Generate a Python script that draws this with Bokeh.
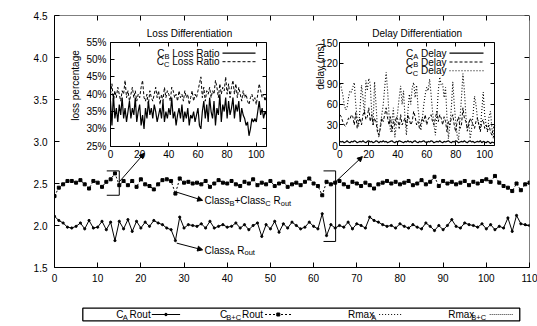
import math
from bokeh.plotting import figure
from bokeh.models import (Range1d, LinearAxis, FixedTicker, PrintfTickFormatter,
                          Label, Arrow, NormalHead, ColumnDataSource)
from bokeh.layouts import column
from bokeh.embed import file_html
from bokeh.resources import INLINE

# ---------------- data ----------------
transmission = list(range(0, 111))
class_a_rout = [
    2.11, 2.06, 2.03, 1.98, 1.97, 1.99, 2.03, 1.96, 2.06, 1.97,
    1.98, 2.05, 1.95, 2.04, 1.82, 2.05, 1.96, 2.07, 1.93, 2.05,
    1.97, 2.04, 1.99, 2.06, 2.03, 2.01, 1.97, 1.95, 1.82, 2.10,
    1.97, 2.01, 2.00, 1.99, 2.02, 1.97, 2.05, 1.97, 1.99, 2.01,
    1.98, 1.99, 2.03, 1.97, 2.01, 1.95, 2.00, 2.03, 1.87, 2.01,
    1.96, 2.05, 1.92, 2.02, 1.97, 2.04, 2.00, 1.96, 1.98, 2.04,
    1.99, 1.96, 2.14, 1.88, 2.01, 1.97, 2.00, 1.98, 2.04, 1.96,
    2.02, 2.00, 1.97, 2.10, 2.06, 2.04, 2.01, 1.99, 2.00, 1.97,
    2.02, 1.99, 1.97, 2.01, 1.98, 1.96, 2.03, 1.99, 1.94, 2.00,
    1.95, 2.00, 2.07, 1.99, 1.97, 2.03, 2.01, 2.00, 1.98, 2.02,
    1.96, 2.01, 1.95, 1.99, 1.97, 2.09, 1.93, 2.12, 2.02, 2.01,
    2.00]
class_bc_rout = [
    2.35, 2.45, 2.49, 2.53, 2.53, 2.51, 2.54, 2.49, 2.44, 2.53,
    2.51, 2.46, 2.52, 2.55, 2.62, 2.48, 2.53, 2.48, 2.53, 2.46,
    2.55, 2.49, 2.47, 2.43, 2.49, 2.54, 2.55, 2.53, 2.38, 2.56,
    2.51, 2.52, 2.50, 2.51, 2.49, 2.53, 2.46, 2.50, 2.54, 2.51,
    2.50, 2.53, 2.49, 2.47, 2.52, 2.50, 2.55, 2.48, 2.51, 2.49,
    2.53, 2.47, 2.50, 2.52, 2.46, 2.49, 2.51, 2.48, 2.52, 2.56,
    2.50, 2.47, 2.36, 2.52, 2.49, 2.51, 2.53, 2.49, 2.46, 2.52,
    2.50, 2.47, 2.51, 2.48, 2.44, 2.49, 2.51, 2.53, 2.50, 2.52,
    2.49, 2.51, 2.53, 2.48, 2.50, 2.54, 2.49, 2.52, 2.58, 2.47,
    2.53, 2.50, 2.52, 2.49, 2.51, 2.53, 2.48, 2.52, 2.50, 2.53,
    2.55, 2.52, 2.59, 2.51, 2.47, 2.45, 2.41, 2.50, 2.42, 2.49,
    2.51]

loss_cb = [
    38, 31, 40, 33, 36, 32, 37, 34, 39, 33,
    36, 32, 35, 38, 33, 36, 34, 39, 32, 35,
    37, 31, 34, 30, 36, 33, 38, 34, 36, 33,
    37, 35, 32, 34, 36, 33, 38, 32, 35, 33,
    36, 34, 39, 33, 35, 31, 34, 36, 33, 37,
    32, 35, 33, 36, 31, 34, 33, 35, 32, 34,
    36, 31, 30, 35, 38, 33, 37, 32, 39, 35,
    33, 38, 31, 36, 34, 40, 32, 37, 35, 39,
    33, 38, 34, 36, 39, 33, 37, 35, 38, 32,
    36, 34, 33, 31, 32, 28, 30, 33, 32, 33,
    32, 35, 38, 34, 36, 33, 35, 34]
loss_cc = [
    40, 43, 38, 41, 39, 42, 40, 38, 41, 40,
    44, 39, 41, 38, 40, 42, 39, 41, 38, 40,
    39, 42, 44, 39, 38, 40, 37, 41, 39, 38,
    40, 42, 39, 41, 37, 40, 38, 42, 39, 41,
    40, 38, 42, 41, 39, 40, 38, 41, 39, 40,
    38, 41, 39, 40, 37, 39, 41, 38, 40, 39,
    41, 43, 45, 39, 42, 38, 41, 40, 42, 39,
    41, 40, 44, 42, 39, 43, 40, 42, 41, 45,
    40, 43, 39, 42, 44, 40, 43, 39, 42, 40,
    38, 41, 39, 40, 38, 37, 39, 40, 38, 39,
    37, 40, 43, 41, 39, 40, 38, 40]

delay_ca = [
    6, 5, 6, 4, 5, 7, 5, 4, 6, 5,
    7, 6, 4, 5, 6, 5, 7, 5, 4, 6,
    7, 5, 6, 4, 5, 7, 6, 4, 6, 5,
    7, 5, 6, 4, 5, 6, 7, 5, 4, 6,
    5, 7, 6, 5, 4, 6, 5, 7, 5, 6,
    4, 6, 7, 5, 4, 6, 5, 6, 7, 5,
    4, 6, 5, 7, 6, 4, 5, 6, 5, 7,
    5, 4, 6, 5, 6, 7, 5, 4, 6, 5,
    7, 6, 4, 5, 6, 5, 7, 5, 4, 6,
    7, 5, 6, 4, 5, 6, 5, 7, 4, 6,
    5, 4, 6, 5, 3, 5, 4, 5]
delay_cb = [
    45, 42, 35, 30, 28, 33, 40, 38, 45, 42,
    30, 48, 25, 35, 40, 30, 45, 50, 38, 42,
    55, 35, 45, 30, 40, 35, 20, 15, 25, 40,
    35, 45, 55, 40, 30, 42, 20, 35, 30, 42,
    38, 25, 45, 30, 35, 40, 28, 45, 38, 30,
    35, 50, 42, 30, 35, 25, 32, 40, 35, 45,
    30, 38, 42, 45, 35, 30, 40, 50, 35, 45,
    40, 30, 42, 35, 20, 35, 30, 40, 45, 30,
    20, 35, 42, 25, 30, 55, 40, 35, 25, 30,
    40, 35, 30, 25, 35, 40, 30, 20, 35, 38,
    25, 30, 22, 30, 20, 15, 25, 30]
delay_cc = [
    90, 85, 75, 60, 52, 55, 70, 80, 78, 85,
    92, 60, 40, 28, 55, 88, 70, 45, 95, 80,
    98, 90, 50, 30, 93, 60, 25, 12, 30, 45,
    60, 85, 107, 80, 45, 20, 35, 55, 12, 30,
    50, 70, 87, 60, 80, 40, 15, 50, 75, 60,
    85, 92, 70, 88, 55, 35, 22, 40, 60, 75,
    85, 80, 97, 75, 50, 30, 15, 45, 80, 100,
    88, 90, 70, 85, 40, 10, 30, 55, 93, 60,
    35, 15, 8, 40, 70, 105, 80, 45, 20, 35,
    10, 25, 45, 72, 60, 40, 30, 25, 50, 78,
    45, 30, 20, 42, 50, 25, 10, 30]

main_xticks = [0, 10, 20, 30, 40, 50, 60, 70, 80, 90, 100, 110]
main_yticks = [1.5, 2.0, 2.5, 3.0, 3.5, 4.0, 4.5]
inset_xticks = [0, 20, 40, 60, 80, 100]
loss_yticks = [25, 30, 35, 40, 45, 50, 55]
delay_yticks = [0, 30, 60, 90, 120, 150]

# ---------------- layout constants ----------------
FONT = "Liberation Sans"
FS = 10
W, H = 537, 300
FL, FR, FT, FB = 54, 529, 15, 267          # main frame (px)
LOSS_BOX = (110, 266, 41.7, 145.7)          # inset frame (px): l, r, t, b
DELAY_BOX = (339.3, 494.3, 42.3, 145.0)
INSET_X = (0, 107)
LOSS_Y = (25, 55)
DELAY_Y = (0, 150)

CW = {' ': 278, '+': 584, 'A': 667, 'B': 667, 'C': 722, 'D': 722, 'L': 556,
      'R': 722, 'a': 556, 'e': 556, 'i': 222, 'l': 222, 'm': 833, 'o': 556,
      's': 500, 't': 278, 'u': 556, 'x': 500, 'y': 500}


def tw(s, size):
    return sum(CW.get(c, 556) for c in s) / 1000.0 * size


p = figure(width=W, height=H, x_range=Range1d(0, 110), y_range=Range1d(1.5, 4.5),
           output_backend="svg", toolbar_location=None,
           x_axis_location=None, y_axis_location=None,
           min_border_left=FL, min_border_right=W - FR,
           min_border_top=FT, min_border_bottom=H - FB)
p.outline_line_color = None
p.grid.visible = False
p.background_fill_color = "white"
p.border_fill_color = "white"


def inset_ranges(box, xr, yr):
    l, r, t, b = box
    sx = (r - l) / (xr[1] - xr[0])
    xs = xr[0] - (l - FL) / sx
    xe = xs + (FR - FL) / sx
    sy = (b - t) / (yr[1] - yr[0])
    ys = yr[0] - (FB - b) / sy
    ye = ys + (FB - FT) / sy
    return Range1d(xs, xe), Range1d(ys, ye)


lxr, lyr = inset_ranges(LOSS_BOX, INSET_X, LOSS_Y)
dxr, dyr = inset_ranges(DELAY_BOX, INSET_X, DELAY_Y)
p.extra_x_ranges = {"lx": lxr, "dx": dxr, "px": Range1d(FL, FR)}
p.extra_y_ranges = {"ly": lyr, "dy": dyr, "py": Range1d(FB, FT)}


def add_axis(side, ticks, labels=True, fmt=None, xr="default", yr="default",
             loc=None, bounds="auto", tick_len=5, standoff=5):
    kw = dict(ticker=FixedTicker(ticks=ticks), x_range_name=xr, y_range_name=yr,
              major_tick_in=tick_len, major_tick_out=0, minor_tick_in=0, minor_tick_out=0,
              axis_line_color="black", axis_line_width=1, major_tick_line_color="black",
              major_tick_line_width=1,
              major_label_text_font=FONT, major_label_text_font_size=f"{FS}px",
              major_label_text_color="black", major_label_standoff=standoff,
              bounds=bounds)
    if fmt is not None:
        kw["formatter"] = fmt
    if loc is not None:
        kw["fixed_location"] = loc
    ax = LinearAxis(**kw)
    if not labels:
        ax.major_label_text_color = None
        ax.major_label_standoff = 0
    p.add_layout(ax, side)
    return ax


# main axes (mirrored ticks, gnuplot style)
add_axis("below", main_xticks, standoff=6)
add_axis("left", main_yticks, fmt=PrintfTickFormatter(format="%.1f"), standoff=7)
add_axis("above", main_xticks, labels=False, loc=4.5)
add_axis("right", main_yticks, labels=False, loc=110)

# inset axes
for xr_, yr_, yt, yrng, fmt, ystand in (
        ("lx", "ly", loss_yticks, LOSS_Y, PrintfTickFormatter(format="%d%%"), 4),
        ("dx", "dy", delay_yticks, DELAY_Y, None, 2)):
    add_axis("below", inset_xticks, xr=xr_, yr=yr_, loc=yrng[0], bounds=INSET_X,
             tick_len=4, standoff=4)
    add_axis("above", inset_xticks, labels=False, xr=xr_, yr=yr_, loc=yrng[1],
             bounds=INSET_X, tick_len=4)
    add_axis("left", yt, fmt=fmt, xr=xr_, yr=yr_, loc=INSET_X[0], bounds=yrng,
             tick_len=4, standoff=ystand)
    add_axis("right", yt, labels=False, xr=xr_, yr=yr_, loc=INSET_X[1], bounds=yrng,
             tick_len=4)

# ---------------- main series ----------------
src = ColumnDataSource(dict(x=transmission, a=class_a_rout, bc=class_bc_rout))
p.line("x", "a", source=src, line_color="black", line_width=1)
p.scatter("x", "a", source=src, marker="circle", size=2.2, color="black")
p.line("x", "bc", source=src, line_color="black", line_width=1, line_dash="2 2")
p.scatter("x", "bc", source=src, marker="square", size=3, color="black")

# ---------------- inset series ----------------
lsrc = ColumnDataSource(dict(x=list(range(len(loss_cb))), cb=loss_cb, cc=loss_cc))
p.line("x", "cb", source=lsrc, x_range_name="lx", y_range_name="ly",
       line_color="black", line_width=1.2)
p.line("x", "cc", source=lsrc, x_range_name="lx", y_range_name="ly",
       line_color="black", line_width=1, line_dash="3 2")

dsrc = ColumnDataSource(dict(x=list(range(len(delay_ca))), ca=delay_ca, cb=delay_cb, cc=delay_cc))
p.line("x", "ca", source=dsrc, x_range_name="dx", y_range_name="dy",
       line_color="black", line_width=1.2)
p.line("x", "cb", source=dsrc, x_range_name="dx", y_range_name="dy",
       line_color="black", line_width=1, line_dash="3 2")
p.line("x", "cc", source=dsrc, x_range_name="dx", y_range_name="dy",
       line_color="black", line_width=1.1, line_dash="1 2")


# ---------------- texts ----------------
def label(fig, x, y, text, size=FS, align="left", angle=0, xr="px", yr="py"):
    fig.add_layout(Label(x=x, y=y, text=text, x_range_name=xr, y_range_name=yr,
                         text_font=FONT, text_font_size=f"{size}px", text_color="black",
                         text_align=align, text_baseline="middle", angle=angle))


def rich(fig, x, y, parts, align="left", xr="px", yr="py", size=FS):
    sub = size * 0.75
    widths = [tw(t, sub if s else size) for t, s in parts]
    total = sum(widths)
    cx = {"left": x, "right": x - total, "center": x - total / 2}[align]
    for (t, s), w in zip(parts, widths):
        fs = sub if s else size
        stripped = t.lstrip(" ")
        lead = tw(t[:len(t) - len(stripped)], fs)
        label(fig, cx + lead, y + (2.8 if s else 0), stripped, size=fs, xr=xr, yr=yr)
        cx += w


label(p, 290, 5.5, "Rate Differentiation", align="center")
label(p, 286, 288, "transmission(*1200packs)", align="center")
label(p, 10.5, 141, "Rate(Mbps)", align="center", angle=math.pi / 2)
label(p, 189, 32.7, "Loss Differentiation", align="center")
label(p, 416.7, 32.7, "Delay Differentiation", align="center")
label(p, 74.5, 85, "loss percentage", align="center", angle=math.pi / 2)
label(p, 320, 66, "delay (ms)", align="center", angle=math.pi / 2)

# inset keys
rich(p, 219, 52.7, [("C", 0), ("B", 1), (" Loss Ratio", 0)], align="right")
rich(p, 219, 61.2, [("C", 0), ("C", 1), (" Loss Ratio", 0)], align="right")
p.line([222, 255], [52.7, 52.7], x_range_name="px", y_range_name="py", line_color="black", line_width=1.2)
p.line([222, 255], [61.2, 61.2], x_range_name="px", y_range_name="py", line_color="black", line_width=1, line_dash="3 2")

rich(p, 446, 52.7, [("C", 0), ("A", 1), (" Delay", 0)], align="right")
rich(p, 446, 61.5, [("C", 0), ("B", 1), (" Delay", 0)], align="right")
rich(p, 446, 70.3, [("C", 0), ("C", 1), (" Delay", 0)], align="right")
p.line([449, 483], [52.7, 52.7], x_range_name="px", y_range_name="py", line_color="black", line_width=1.2)
p.line([449, 483], [61.5, 61.5], x_range_name="px", y_range_name="py", line_color="black", line_width=1, line_dash="3 2")
p.line([449, 483], [70.3, 70.3], x_range_name="px", y_range_name="py", line_color="black", line_width=1.1, line_dash="1 2")

# annotations on the main plot (data coordinates)
bracket1_x = [12.1, 15.0, 15.0, 12.1]
bracket1_y = [2.65, 2.65, 2.36, 2.36]
bracket2_x = [62.3, 65.1, 65.1, 62.3]
bracket2_y = [2.65, 2.65, 1.81, 1.81]
p.line(bracket1_x, bracket1_y, line_color="black", line_width=1)
p.line(bracket2_x, bracket2_y, line_color="black", line_width=1)
arrows = [((15.0, 2.52), (20.8, 2.86)),
          ((65.1, 2.52), (71.3, 2.82)),
          ((28.1, 2.40), (34.3, 2.30)),
          ((28.3, 1.79), (34.3, 1.71))]
for (xs, ys), (xe, ye) in arrows:
    p.add_layout(Arrow(x_start=xs, y_start=ys, x_end=xe, y_end=ye, line_color="black",
                       line_width=1, end=NormalHead(size=5, fill_color="black", line_color="black")))
rich(p, 204, 200, [("Class", 0), ("B", 1), ("+Class", 0), ("C", 1), (" R", 0), ("out", 1)])
rich(p, 204, 249.5, [("Class", 0), ("A", 1), (" R", 0), ("out", 1)])

# ---------------- bottom key ----------------
leg = figure(width=W, height=26, x_range=Range1d(0, W), y_range=Range1d(26, 0),
             output_backend="svg", toolbar_location=None,
             x_axis_location=None, y_axis_location=None, min_border=0)
leg.outline_line_color = None
leg.grid.visible = False
leg.quad(left=[32], right=[526], top=[7.7], bottom=[20.3], fill_color=None,
         line_color="black", line_width=1.3)
KY = 14
rich(leg, 106, KY, [("C", 0), ("A", 1), (" Rout", 0)], align="right", xr="default", yr="default")
leg.line([110, 142], [KY, KY], line_color="black", line_width=1)
leg.scatter([126], [KY], marker="circle", size=2.5, color="black")
rich(leg, 233, KY, [("C", 0), ("B+C", 1), (" Rout", 0)], align="right", xr="default", yr="default")
leg.line([238, 268], [KY, KY], line_color="black", line_width=1, line_dash="2 2")
leg.scatter([253], [KY], marker="square", size=3, color="black")
rich(leg, 363, KY, [("Rmax", 0), ("A", 1)], align="right", xr="default", yr="default")
leg.line([367, 392], [KY, KY], line_color="black", line_width=1, line_dash="1 2")
rich(leg, 486, KY, [("Rmax", 0), ("B+C", 1)], align="right", xr="default", yr="default")
leg.line([492, 519], [KY, KY], line_color="black", line_width=0.8, line_dash="1 1")

layout = column(p, leg, spacing=0)
open("out.html", "w").write(file_html(layout, INLINE))
